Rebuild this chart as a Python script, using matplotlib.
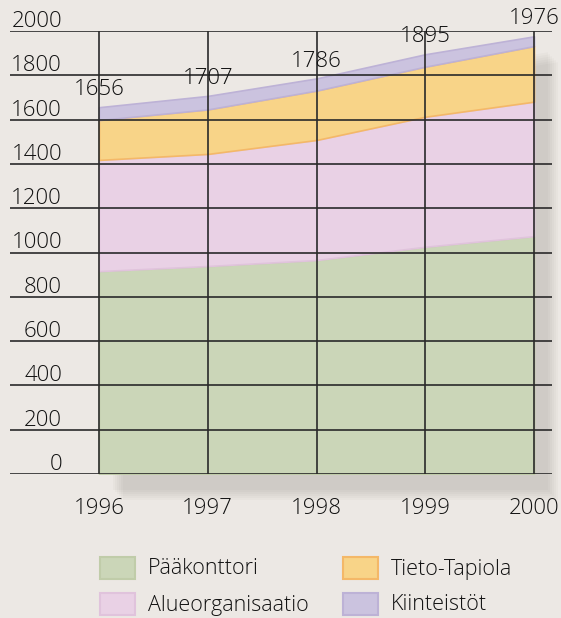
import matplotlib
matplotlib.use("Agg")
import matplotlib.pyplot as plt
from matplotlib.patches import Rectangle, Polygon
import numpy as np

years = [1996, 1997, 1998, 1999, 2000]
paakonttori = [916, 939, 966, 1026, 1074]
alueorganisaatio = [502, 506, 542, 587, 607]
tieto_tapiola = [180, 201, 223, 226, 251]
kiinteistot = [58, 61, 55, 56, 44]
totals = [1656, 1707, 1786, 1895, 1976]
series_names = ["Pääkonttori", "Alueorganisaatio", "Tieto-Tapiola", "Kiinteistöt"]
yticks = [0, 200, 400, 600, 800, 1000, 1200, 1400, 1600, 1800, 2000]

colors = ["#cbd6b8", "#e9d1e5", "#f8d488", "#cbc3df"]
edge_colors = ["#c0cca9", "#e0c3dc", "#f4b868", "#bdb2d6"]
bg = "#ece8e4"
txt = "#111111"

plt.rcParams['font.family'] = ['Open Sans', 'DejaVu Sans']
FW = 'light'

W, H = 561, 618
fig = plt.figure(figsize=(W / 100, H / 100), dpi=100, facecolor=bg)

def fx(px):
    return px / W

def fy(py):
    return 1 - py / H

ax_left, ax_right, ax_top, ax_bottom = 10, 552, 31, 474
ax = fig.add_axes([fx(ax_left), fy(ax_bottom), fx(ax_right - ax_left), (ax_bottom - ax_top) / H])
ax.set_facecolor("none")
px_per_year = (534 - 99) / 4
px_per_unit = (ax_bottom - ax_top) / 2000
x0 = 1996 - (99 - ax_left) / px_per_year
x1 = 2000 + (ax_right - 534) / px_per_year
ax.set_xlim(x0, x1)
ax.set_ylim(0, 2000)
for s in ax.spines.values():
    s.set_visible(False)
ax.set_xticks([])
ax.set_yticks([])

x = np.array(years, dtype=float)
stack = np.vstack([paakonttori, alueorganisaatio, tieto_tapiola, kiinteistot])
cum = np.cumsum(stack, axis=0)

# soft drop shadow (offset copy of the total shape)
for k in range(6):
    dx = (14 + k * 2) / px_per_year
    dy = (16 + k * 2) / px_per_unit
    sx = np.concatenate([x + dx, (x + dx)[::-1]])
    sy = np.concatenate([cum[-1] - dy, np.full(len(x), -dy)])
    ax.add_patch(Polygon(np.column_stack([sx, sy]), closed=True, facecolor="#7a7570",
                         alpha=0.045, edgecolor="none", zorder=0.5, clip_on=False))

base = np.zeros(len(years))
for i in range(4):
    ax.fill_between(x, base, cum[i], facecolor=colors[i], edgecolor=edge_colors[i], linewidth=1.2, zorder=1)
    base = cum[i]

# gridlines
for t in yticks:
    ax.plot([x0, x1], [t, t], color="#2a2a2a", lw=1.2, zorder=3, solid_capstyle="butt")
    ax.text(1996 - (99 - 62) / px_per_year, t + 4 / px_per_unit, str(t), ha="right", va="baseline",
            fontsize=16, color=txt, zorder=4, fontweight=FW)
for yv in years:
    ax.plot([yv, yv], [0, 2000], color="#2a2a2a", lw=1.2, zorder=3)
    ax.text(yv, -34 / px_per_unit, str(yv), ha="center", va="center", fontsize=16,
            color=txt, fontweight=FW)

for yv, tot in zip(years, totals):
    ax.annotate(str(tot), (yv, tot), xytext=(0, 12.5), textcoords="offset points",
                ha="center", va="center", fontsize=16, color=txt, zorder=5, fontweight=FW)

# legend
leg_items = [(100, 557, 0), (100, 593, 1), (343, 557, 2), (343, 593, 3)]
for lx, ly, i in leg_items:
    fig.patches.append(Rectangle((fx(lx), fy(ly + 22)), fx(35), 22 / H, transform=fig.transFigure,
                                 facecolor=colors[i], edgecolor=edge_colors[i], linewidth=1.5))
    fig.text(fx(lx + 48), fy(ly + 12), series_names[i], ha="left", va="center", fontsize=15.5,
             color=txt, fontweight=FW)

fig.savefig("out.png", dpi=100, facecolor=bg)
